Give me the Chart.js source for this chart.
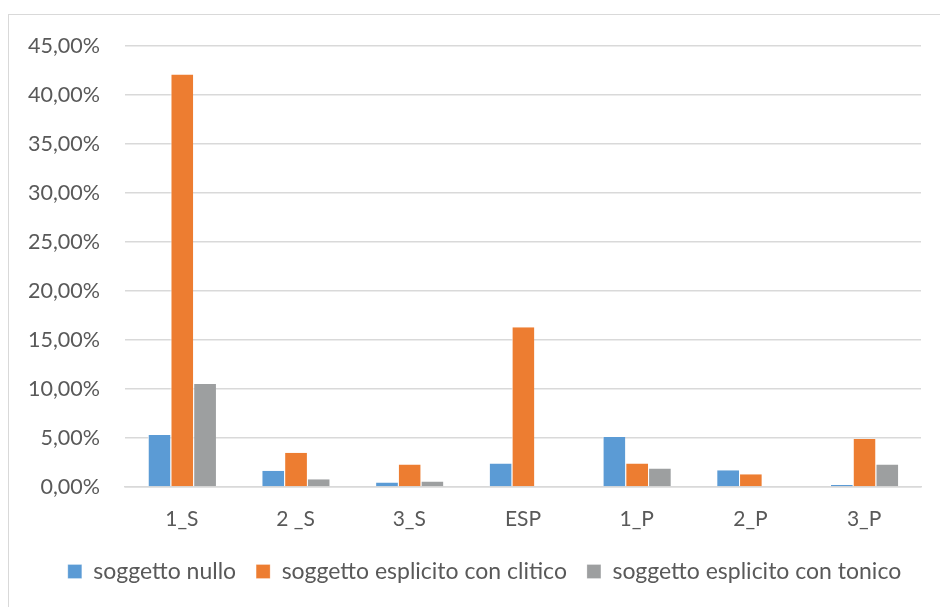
<!DOCTYPE html>
<html><head><meta charset="utf-8">
<script src="https://cdn.jsdelivr.net/npm/chart.js@4/dist/chart.umd.min.js"></script>
<style>
html,body{margin:0;padding:0;background:#fff;width:940px;height:607px;overflow:hidden}
#frame{position:absolute;left:8px;top:14px;width:950px;height:620px;border:1px solid #d9d9d9;box-sizing:border-box}
canvas{position:absolute;left:0;top:0}
</style></head>
<body>
<div id="frame"></div>
<canvas id="c" width="940" height="607"></canvas>
<script>
const categories = ['1_S', '2 _S', '3_S', 'ESP', '1_P', '2_P', '3_P'];
const soggettoNullo = [5.3, 1.65, 0.45, 2.4, 5.1, 1.7, 0.2];
const espliticoClitico = [42.1, 3.5, 2.3, 16.3, 2.4, 1.3, 4.9];
const esplicitoTonico = [10.5, 0.8, 0.55, 0, 1.9, 0, 2.3];
const seriesNames = ['soggetto nullo', 'soggetto esplicito con clitico', 'soggetto esplicito con tonico'];
const yTicks = [0, 5, 10, 15, 20, 25, 30, 35, 40, 45];

const colors = ['#5b9bd5', '#ed7d31', '#9d9fa0'];
const font = "Lato, 'Open Sans', sans-serif";
const txt = '#595959';

const shiftLegend = {
  id: 'shiftLegend',
  afterLayout(chart) {
    if (chart.legend) { chart.legend.left += 14; chart.legend.right += 14; }
  }
};

new Chart(document.getElementById('c'), {
  type: 'bar',
  data: {
    labels: categories,
    datasets: [soggettoNullo, espliticoClitico, esplicitoTonico].map((d, i) => ({
      label: seriesNames[i],
      data: d,
      backgroundColor: colors[i],
      borderColor: '#ffffff',
      borderWidth: {left: 1, right: 0, top: 0, bottom: 0},
      categoryPercentage: 0.6,
      barPercentage: 1.0
    }))
  },
  plugins: [shiftLegend],
  options: {
    responsive: false,
    animation: false,
    layout: {padding: {left: 20, right: 19, top: 46, bottom: 14}},
    plugins: {
      legend: {
        position: 'bottom',
        labels: {boxWidth: 14, boxHeight: 14, padding: 20, color: txt, font: {family: font, size: 23}}
      },
      tooltip: {enabled: false}
    },
    scales: {
      x: {
        grid: {display: false},
        border: {color: '#d9d9d9', width: 1.5},
        ticks: {color: txt, font: {family: font, size: 21}, padding: 12},
        afterFit: s => { s.height = 53; }
      },
      y: {
        min: 0, max: 45,
        afterBuildTicks: s => { s.ticks = yTicks.map(v => ({value: v})); },
        grid: {color: '#d9d9d9', lineWidth: 1.5, drawTicks: false},
        border: {display: false},
        ticks: {color: txt, font: {family: font, size: 21.5}, padding: 25,
          callback: v => v.toFixed(2).replace('.', ',') + '%'},
        afterFit: s => { s.width = 105; }
      }
    }
  }
});
</script>
</body></html>
